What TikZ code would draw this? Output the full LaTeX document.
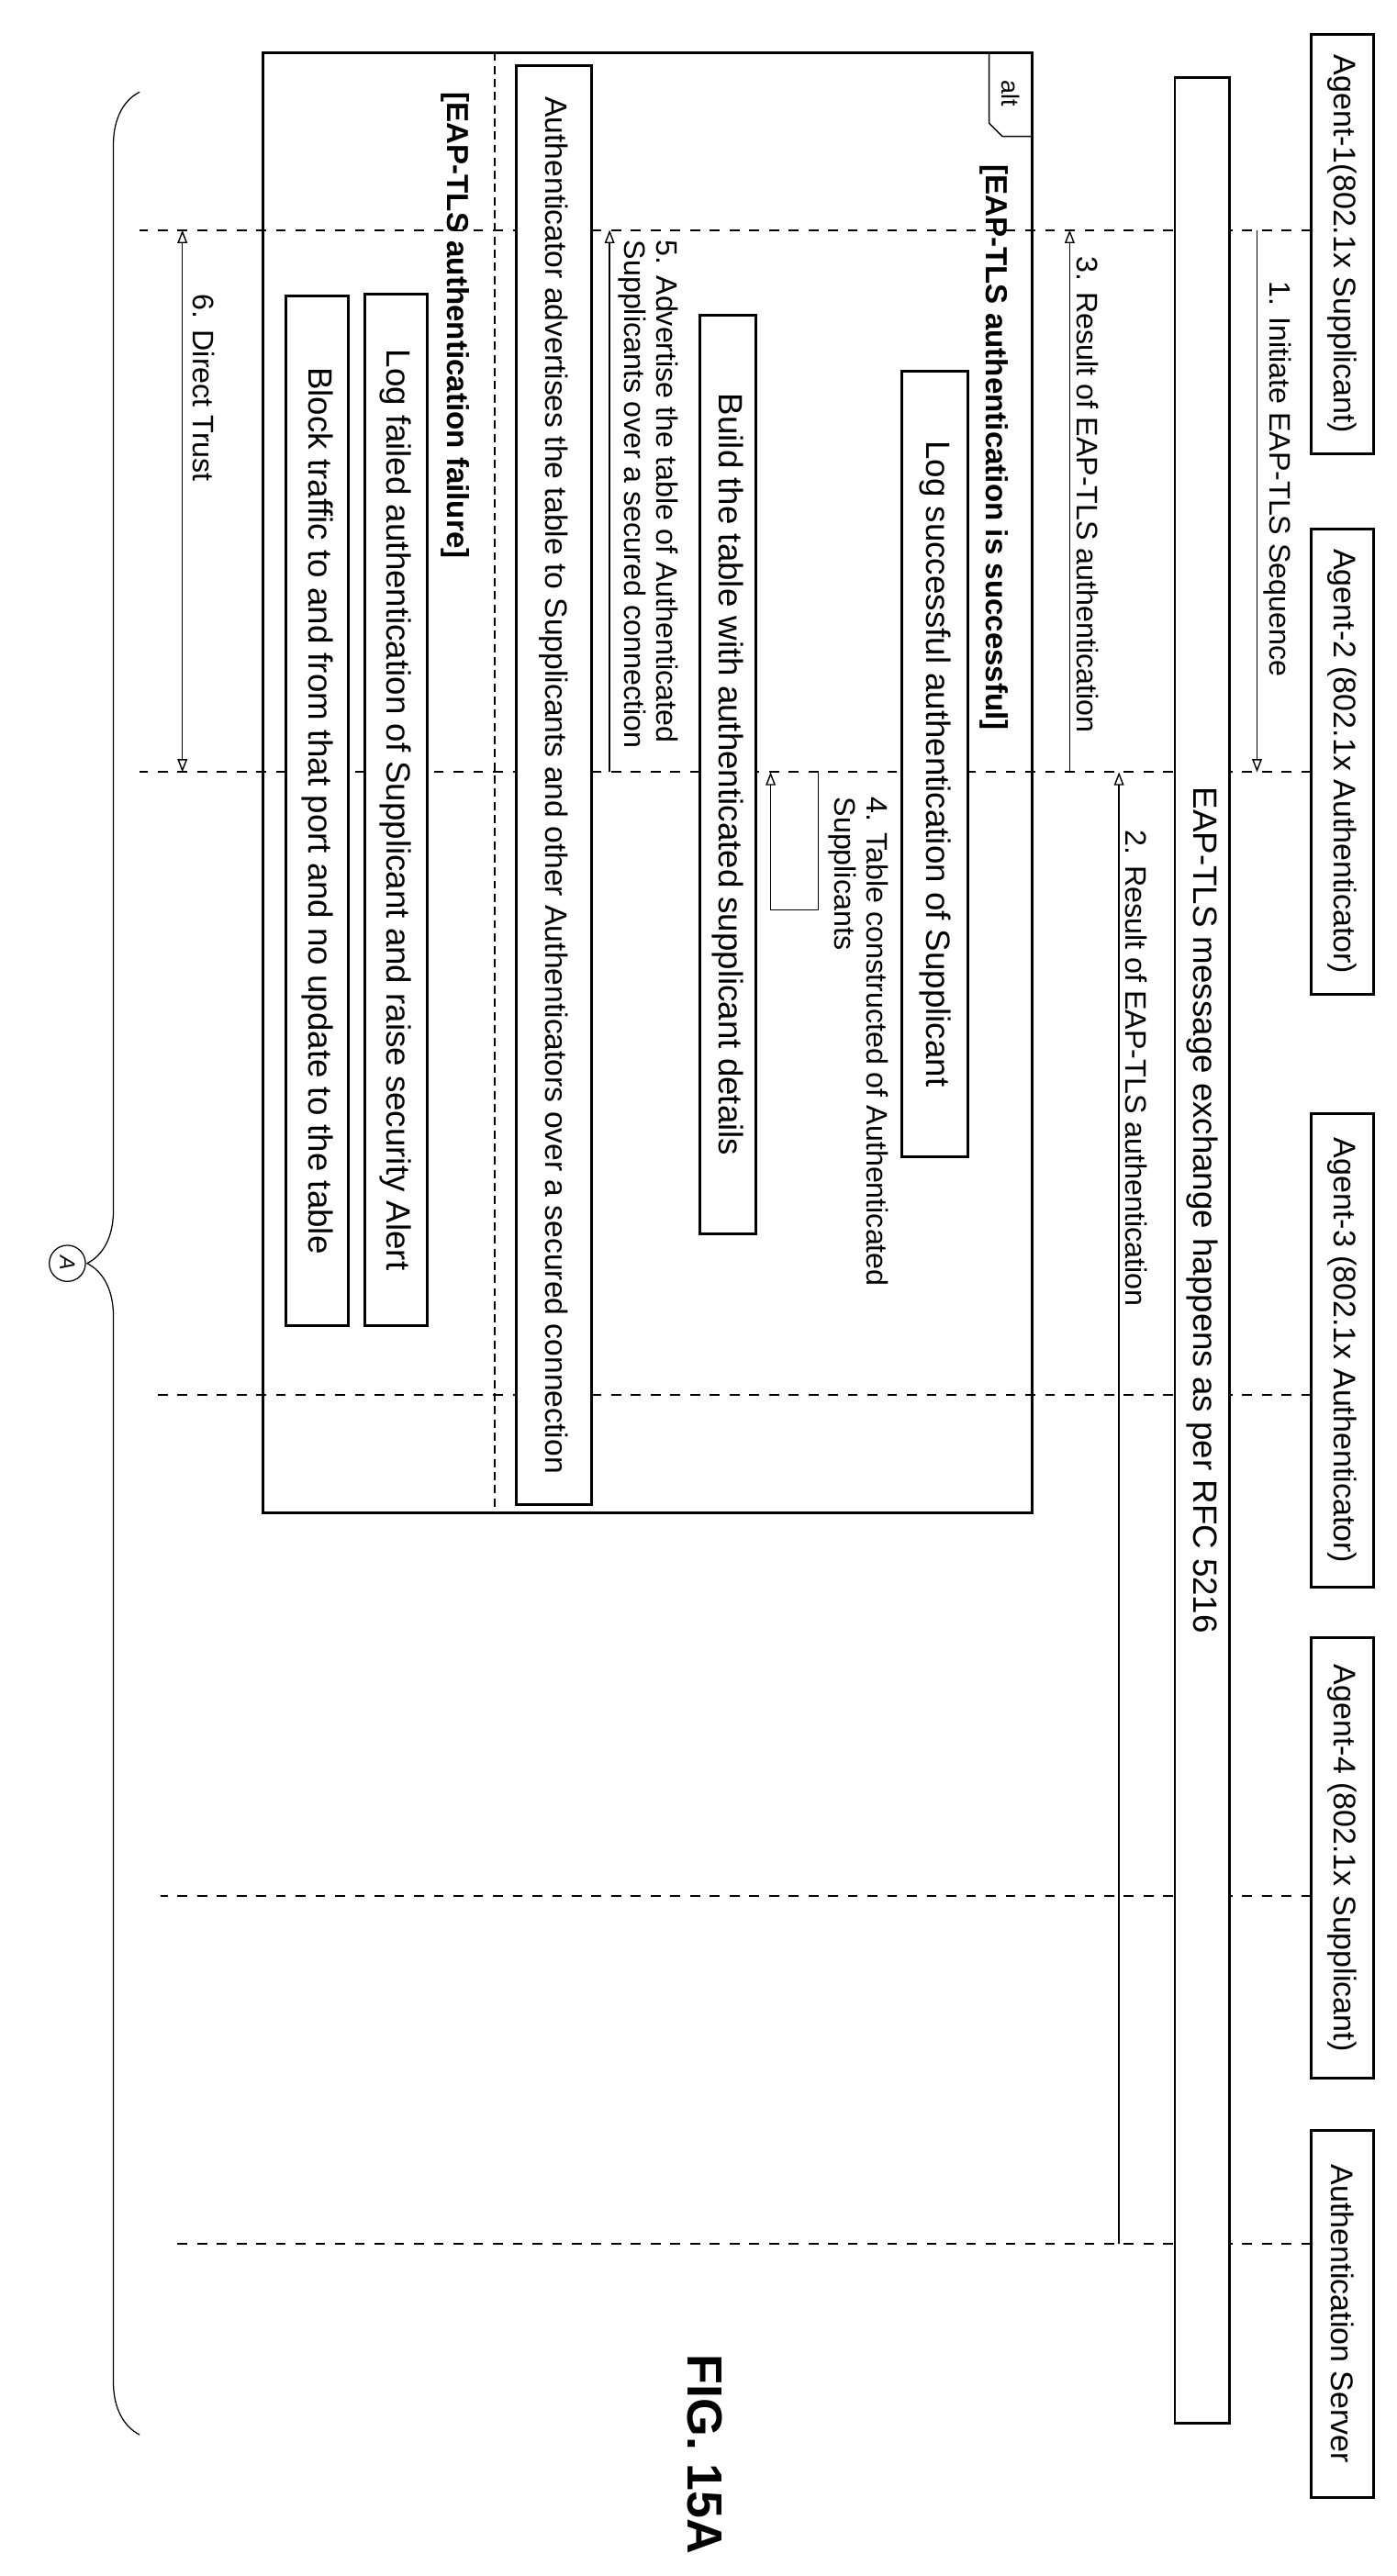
\documentclass[tikz,border=0pt]{standalone}
\usepackage{fontspec}
\setmainfont{Liberation Sans}
\usetikzlibrary{arrows.meta,decorations.pathreplacing}
\begin{document}
\begin{tikzpicture}[x=1pt,y=-1pt,
  box/.style={draw,line width=1.6pt,fill=white,rotate=-90,inner sep=0pt,font=\fontsize{20.5}{22}\selectfont},
  hdr/.style={box,font=\fontsize{19}{21}\selectfont},
  lbl/.style={rotate=-90,inner sep=1pt,font=\fontsize{18}{19.5}\selectfont,align=left},
  life/.style={line width=1.1pt,dash pattern=on 6pt off 6pt},
  msg/.style={line width=0.8pt,-{Triangle[open,length=8pt,width=6pt]}},
  guard/.style={rotate=-90,inner sep=1pt,font=\bfseries\fontsize{18.5}{20}\selectfont}]
\useasboundingbox (0,0) rectangle (850,1568);
% headers
\node[hdr,minimum width=255,minimum height=38] (a1) at (817,148.5) {Agent-1(802.1x Supplicant)};
\node[hdr,minimum width=283,minimum height=38] (a2) at (817,463.5) {Agent-2 (802.1x Authenticator)};
\node[hdr,minimum width=288,minimum height=38] (a3) at (817,822) {Agent-3 (802.1x Authenticator)};
\node[hdr,minimum width=268,minimum height=38] (a4) at (817,1131) {Agent-4 (802.1x Supplicant)};
\node[hdr,minimum width=223,minimum height=38] (as) at (817,1408.5) {Authentication Server};
% lifelines
\coordinate (l1) at (798,140); \coordinate (e1) at (85,140);
\coordinate (l2) at (798,470); \coordinate (e2) at (85,470);
\coordinate (l3) at (798,849); \coordinate (e3) at (95,849);
\coordinate (l4) at (798,1154); \coordinate (e4) at (98,1154);
\coordinate (l5) at (798,1366); \coordinate (e5) at (105,1366);
\draw[life] (l1) -- (e1);
\draw[life] (l2) -- (e2);
\draw[life] (l3) -- (e3);
\draw[life] (l4) -- (e4);
\draw[life] (l5) -- (e5);
% big exchange box
\node[box,minimum width=1428,minimum height=33] (eap) at (731.5,761) {};
\node[lbl,anchor=west,font=\fontsize{20.5}{22}\selectfont] (eapt) at (731.5,478) {EAP-TLS message exchange happens as per RFC 5216};
% message 1
\coordinate (m1a) at (765,140); \coordinate (m1b) at (765,470);
\draw[msg] (m1a) -- (m1b);
\node[lbl,anchor=south west] (t1) at (768,170) {1. Initiate EAP-TLS Sequence};
% message 2
\coordinate (m2a) at (681,1366); \coordinate (m2b) at (681,470);
\draw[msg] (m2a) -- (m2b);
\node[lbl,anchor=south west] (t2) at (684,504) {2. Result of EAP-TLS authentication};
% message 3
\coordinate (m3a) at (651,470); \coordinate (m3b) at (651,140);
\draw[msg] (m3a) -- (m3b);
\node[lbl,anchor=south west] (t3) at (654,155) {3. Result of EAP-TLS authentication};
% alt frame
\draw[line width=1.6pt] (160,32) rectangle (628,921);
\draw[line width=0.8pt] (602,32) -- (602,75) -- (610,83) -- (628,83);
\node[rotate=-90,font=\fontsize{15}{16}\selectfont,inner sep=0pt] (alt) at (615,57) {alt};
\draw[line width=0.8pt,dash pattern=on 5pt off 3pt] (301,32) -- (301,921);
\node[guard,anchor=west] (g1) at (605,99) {[EAP-TLS authentication is successful]};
\node[guard,anchor=west] (g2) at (277,55) {[EAP-TLS authentication failure]};
% boxes
\node[box,minimum width=478,minimum height=40] (b1) at (569,465) {Log successful authentication of Supplicant};
\coordinate (s4a) at (498,470); \coordinate (s4b) at (498,554); \coordinate (s4c) at (469,554); \coordinate (s4d) at (469,470);
\draw[msg] (s4a) -- (s4b) -- (s4c) -- (s4d);
\node[lbl,anchor=south west] (t4) at (503,484) {4. Table constructed of Authenticated\\Supplicants};
\node[box,minimum width=559,minimum height=34] (b2) at (443,471.5) {Build the table with authenticated supplicant details};
\coordinate (m5a) at (371,470); \coordinate (m5b) at (371,140);
\draw[msg] (m5a) -- (m5b);
\node[lbl,anchor=south west] (t5) at (375,145) {5. Advertise the table of Authenticated\\Supplicants over a secured connection};
\node[box,minimum width=876,minimum height=46,font=\fontsize{18.8}{20}\selectfont] (b3) at (337,478) {Authenticator advertises the table to Supplicants and other Authenticators over a secured connection};
\node[box,minimum width=628,minimum height=38] (b4) at (241,493) {Log failed authentication of Supplicant and raise security Alert};
\node[box,minimum width=627,minimum height=38] (b5) at (193,493.5) {Block traffic to and from that port and no update to the table};
% message 6
\coordinate (m6a) at (111,140); \coordinate (m6b) at (111,470);
\draw[line width=0.8pt,{Triangle[open,length=8pt,width=6pt]}-{Triangle[open,length=8pt,width=6pt]}] (m6a) -- (m6b);
\node[lbl,anchor=south west] (t6) at (116,178) {6. Direct Trust};
% brace and connector
\coordinate (br1) at (85,1482); \coordinate (br2) at (85,56);
\draw[line width=0.7pt,decorate,decoration={brace,amplitude=32pt}] (br1) -- (br2);
\node[draw,circle,line width=0.7pt,minimum size=22pt,inner sep=0pt,rotate=-90,font=\itshape\fontsize{13}{15}\selectfont] (circA) at (41,769) {A};
% figure label
\node[rotate=-90,font=\bfseries\fontsize{30}{32}\selectfont] (fig) at (429,1494) {FIG. 15A};
\end{tikzpicture}
\end{document}
